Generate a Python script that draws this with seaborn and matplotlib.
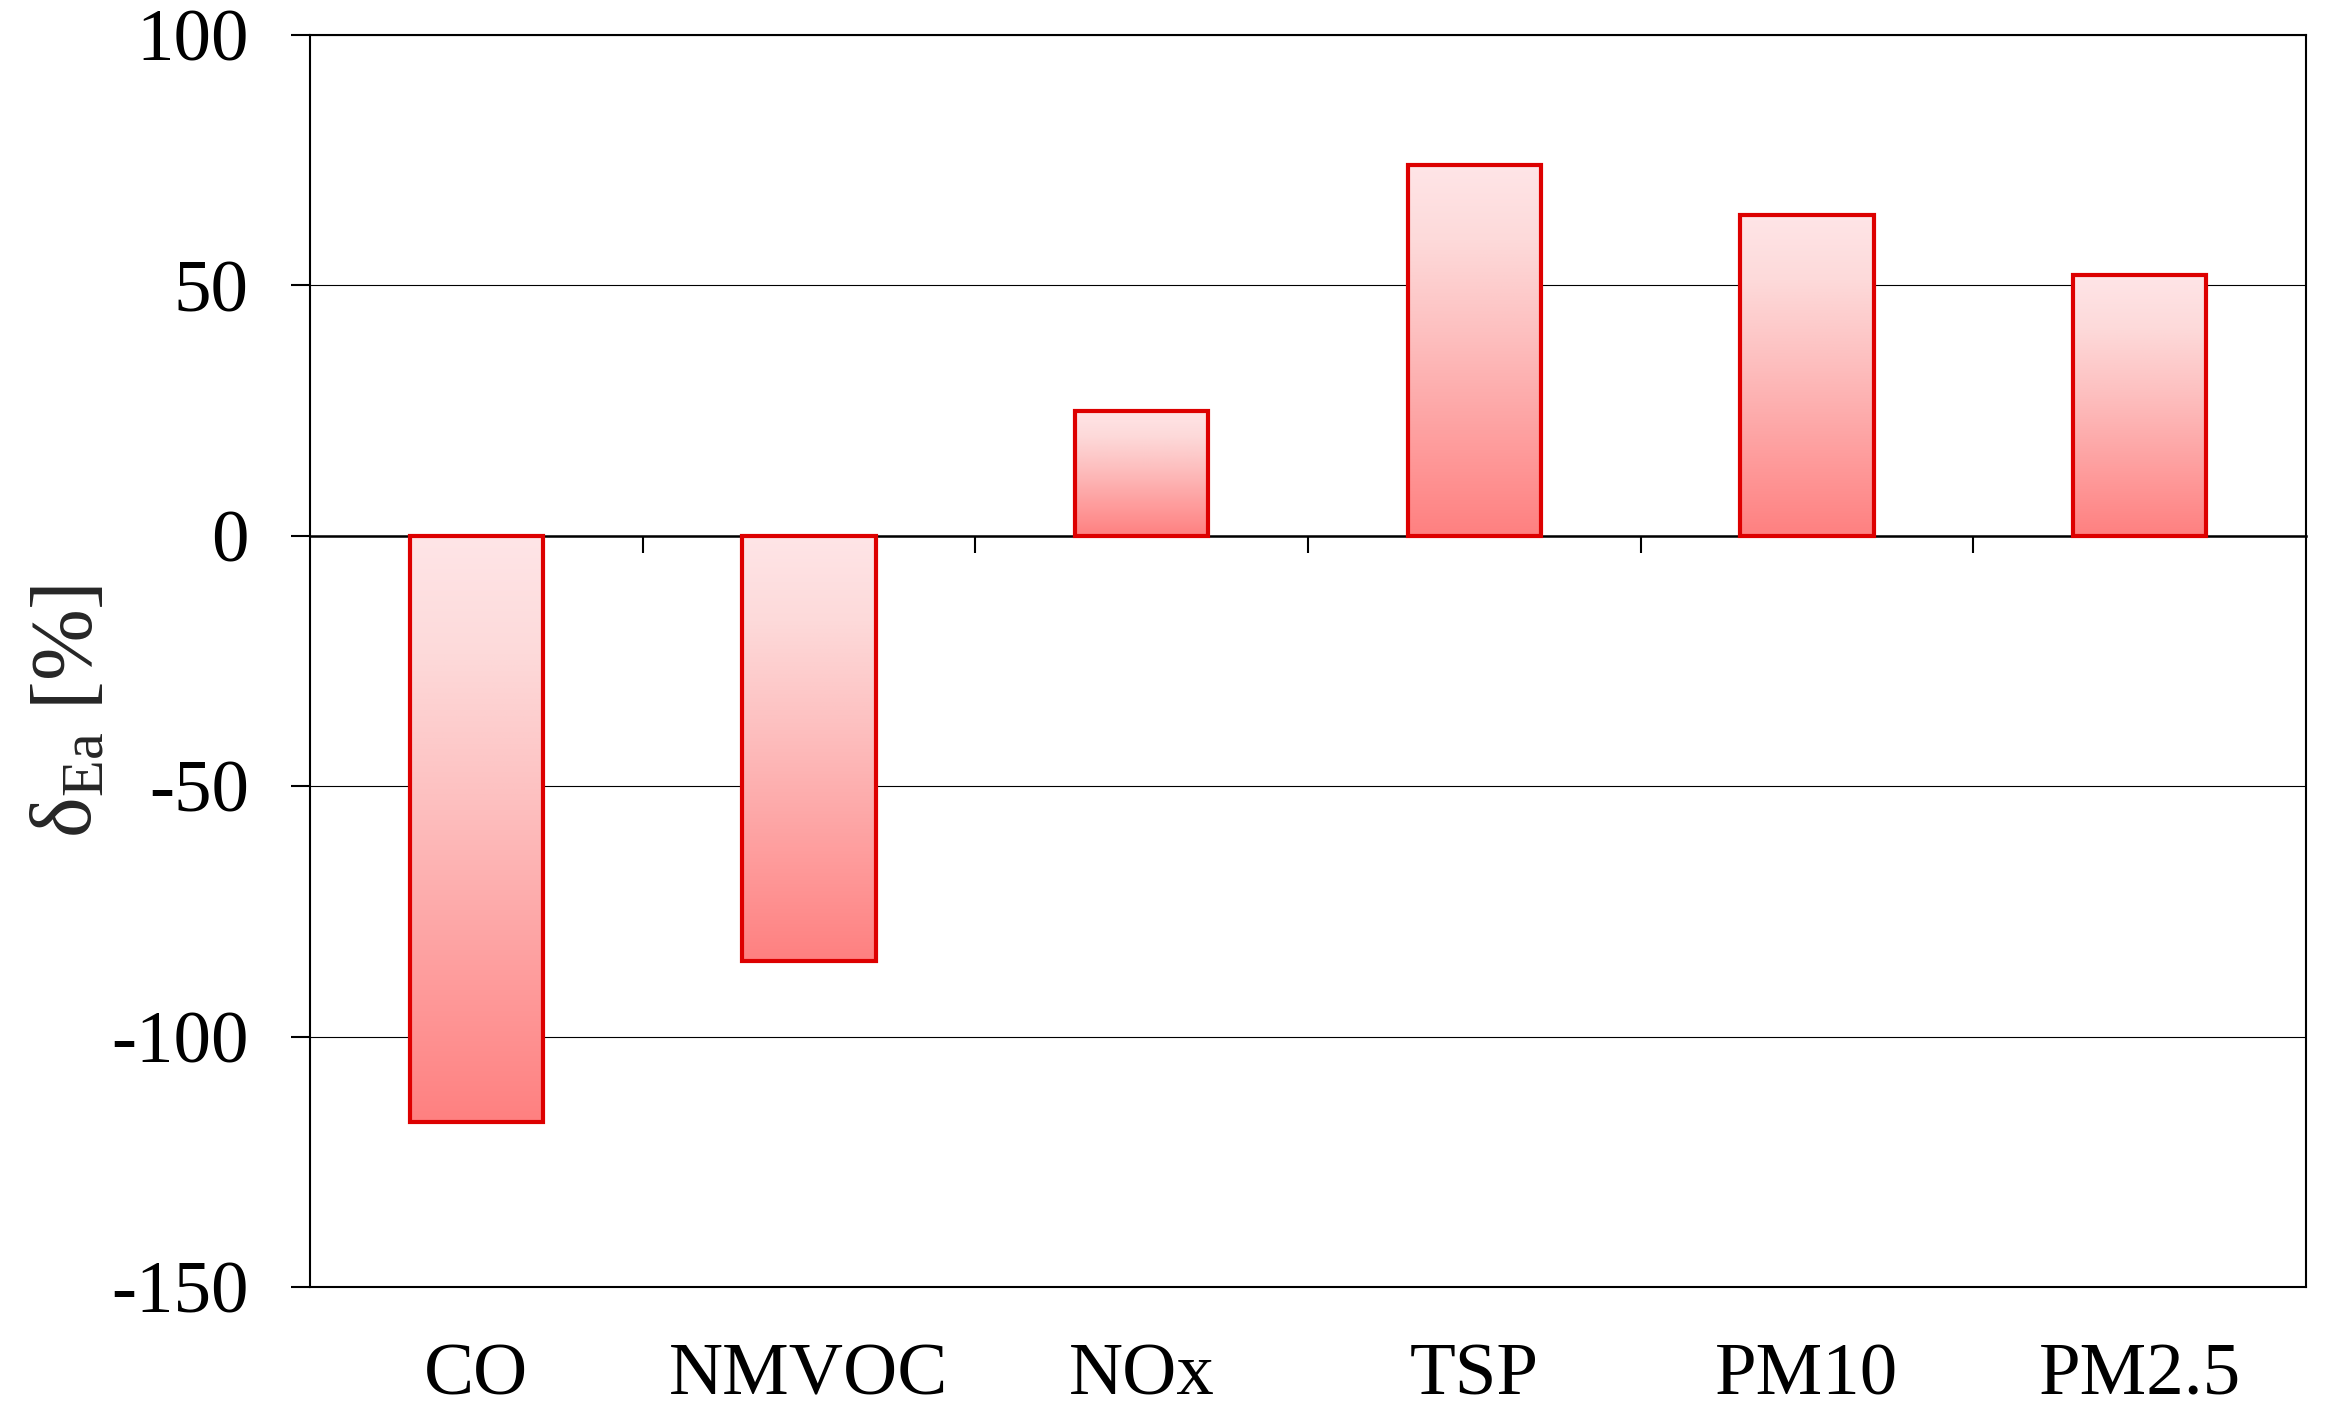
import numpy as np
import matplotlib
matplotlib.use("Agg")
import matplotlib.pyplot as plt
import matplotlib.colors as mcolors
import seaborn as sns

categories = ["CO", "NMVOC", "NOx", "TSP", "PM10", "PM2.5"]
values = [-117, -85, 25, 74, 64, 52]
y_ticks = [-150, -100, -50, 0, 50, 100]

sns.set_style("white")
plt.rcParams["font.family"] = ["Liberation Serif", "DejaVu Serif"]
plt.rcParams["axes.unicode_minus"] = False
plt.rcParams["mathtext.fontset"] = "custom"
plt.rcParams["mathtext.rm"] = "Liberation Serif"

fig = plt.figure(figsize=(23.25, 14.2), dpi=100)
ax = fig.add_axes([0.13333, 0.09366, 0.85849, 0.88169])

edge = "#DD0000"
sns.barplot(x=categories, y=values, width=0.4, color="white", edgecolor=edge,
            linewidth=3.0, ax=ax, zorder=3)

ax.set_xlim(-0.5, len(categories) - 0.5)
ax.set_ylim(-150, 100)
ax.set_yticks(y_ticks)

# gradient fill inside each bar
cmap = mcolors.LinearSegmentedColormap.from_list(
    "grad", [(0.0, "#FF8080"), (0.55, "#FDC0C0"), (0.8, "#FDDADA"), (1.0, "#FFE5E7")])
grad = np.linspace(0, 1, 256).reshape(-1, 1)
for p in list(ax.patches):
    x0 = p.get_x()
    w = p.get_width()
    y0 = p.get_y()
    h = p.get_height()
    ylo, yhi = min(y0, y0 + h), max(y0, y0 + h)
    im = ax.imshow(grad, cmap=cmap, origin="lower", aspect="auto",
                   extent=[x0, x0 + w, ylo, yhi], zorder=2.5, interpolation="bilinear")
    im.set_clip_path(p)
    p.set_facecolor("none")
ax.set_xlim(-0.5, len(categories) - 0.5)
ax.set_ylim(-150, 100)

# grid & spines
ax.set_axisbelow(True)
ax.yaxis.grid(True, color="black", linewidth=0.8)
ax.xaxis.grid(False)
for s in ["left", "right", "top", "bottom"]:
    ax.spines[s].set_visible(True)
    ax.spines[s].set_color("black")
    ax.spines[s].set_linewidth(1.5)

ax.tick_params(axis="y", which="major", direction="out", length=14, width=1.5,
               labelsize=54, pad=30, left=True, colors="black")
ax.tick_params(axis="x", which="major", length=0, labelsize=54, pad=40, colors="black")

# zero-line category axis with boundary ticks
zero_frac = (0 - (-150)) / (100 - (-150))
sec = ax.secondary_xaxis(zero_frac)
sec.set_xticks([i + 0.5 for i in range(len(categories) - 1)])
sec.set_xticklabels([])
sec.tick_params(axis="x", direction="in", length=12, width=1.5, colors="black")
for s in sec.spines.values():
    s.set_linewidth(1.8)
    s.set_color("black")

ax.set_xlabel("")
ax.set_ylabel(r"$\mathregular{δ_{Ea}}$ [%]", fontsize=62)
ax.yaxis.set_label_coords(-0.100, 0.46)

fig.savefig("out.png", dpi=100, facecolor="white")
